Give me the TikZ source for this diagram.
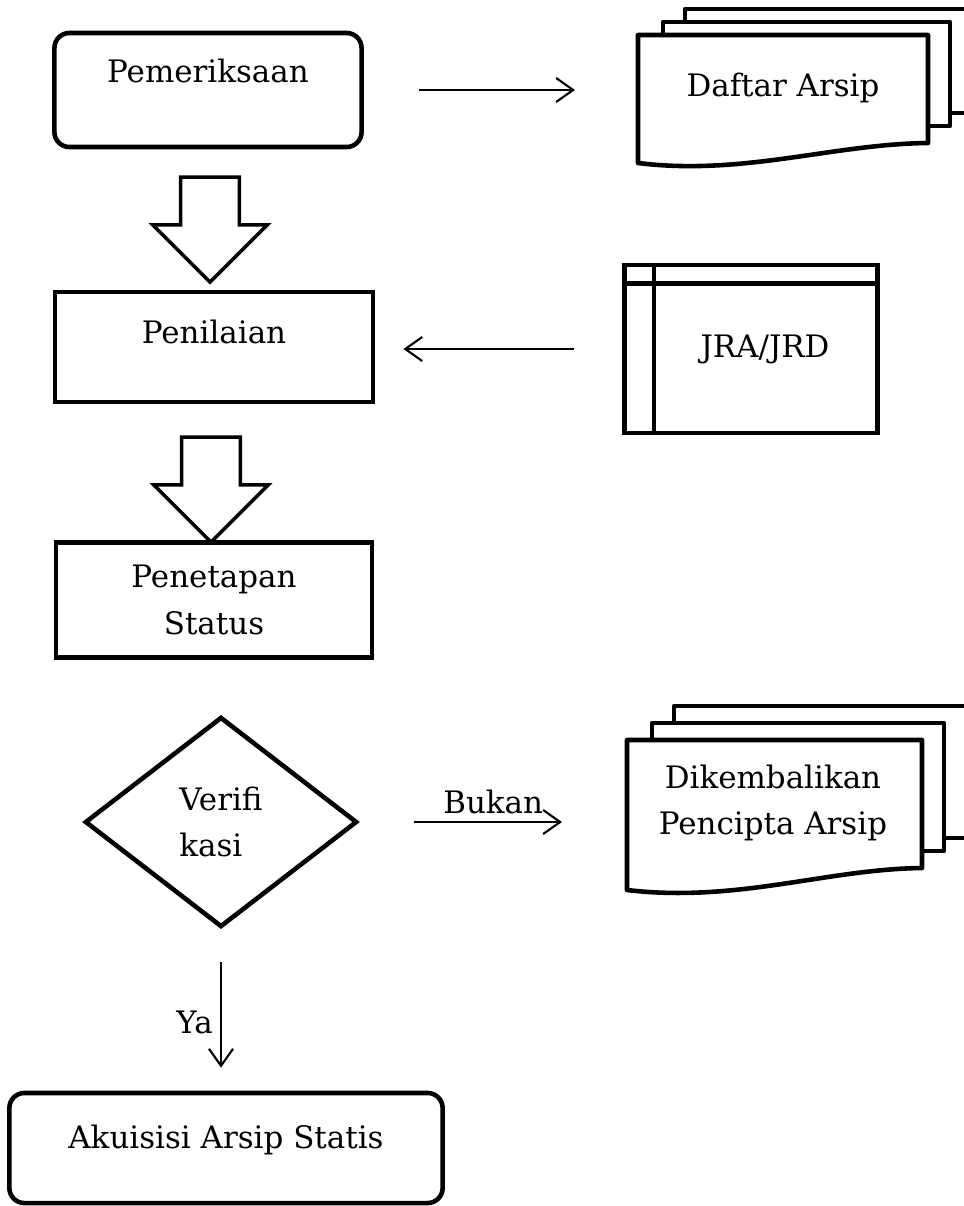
\documentclass[tikz,border=0pt]{standalone}
\usepackage{fontspec}
\setmainfont{DejaVu Serif}
\usetikzlibrary{shapes.geometric,shapes.arrows,arrows.meta,positioning,calc}
\tikzset{
    teks/.style={font=\fontsize{8.8}{13.2}\selectfont, align=center},
    kotak/.style={rectangle, draw, line width=1.3pt, teks},
    prosesbulat/.style={kotak, rounded corners=0.15cm},
    keputusan/.style={diamond, draw, line width=1.3pt, teks, align=left, aspect=1.3,
        minimum width=2.72cm, minimum height=2.1cm, inner sep=0pt},
    simpanan/.style={kotak, minimum width=2.53cm, minimum height=1.68cm},
    % panah tebal ke bawah
    panahblok/.style={single arrow, draw, line width=1pt, rotate=-90,
        minimum height=1.05cm, inner xsep=0pt, inner ysep=0.275cm,
        single arrow head extend=0.28cm},
    panah/.style={-{Straight Barb[length=1.7mm, width=2.4mm]}, line width=0.6pt},
    halaman/.style={draw, fill=white, line width=1.3pt, line join=round},
    % tumpukan dokumen: lebar / tinggi kiri / tinggi kanan / geser
    pics/dokumen/.style args={#1/#2/#3/#4}{code={
        \draw[halaman] (47,{-2*#4}) rectangle ({#1+80},{#3-30});
        \draw[halaman] (25,{-#4}) rectangle ({#1+22},{#3-17});
        \draw[halaman] (0,0) -- (#1,0) -- (#1,#3)
            .. controls ({#1-95},{#3+1}) and ({#1-185},{#2+13}) .. (0,#2) -- cycle;
        \coordinate (-kiri) at (0,{#2/2});
    }}
}
\begin{document}
\begin{tikzpicture}[x=0.01cm, y=-0.01cm]
\useasboundingbox (0,0) rectangle (964,1206);

% alur utama
\node[prosesbulat, minimum width=3.07cm, minimum height=1.14cm, text height=7pt, text depth=11pt] (periksa) at (208,90) {Pemeriksaan};
\node[panahblok] (blok1) at (210,215) {};
\node[kotak, minimum width=3.18cm, minimum height=1.1cm, text height=7pt, text depth=9pt] (nilai) at (214,347) {Penilaian};
\node[panahblok] (blok2) at (211,475) {};
\node[kotak, minimum width=3.16cm, minimum height=1.15cm] (tetap) at (214,600) {Penetapan\\Status};
\node[keputusan] (verif) at (221,822) {Verifi\\kasi};
\node[prosesbulat, minimum width=4.33cm, minimum height=1.1cm, text height=7pt, text depth=7pt] (akuisisi) at (226,1148) {Akuisisi Arsip Statis};

% dokumen dan simpanan
\pic (dftr) at (638,35) {dokumen=290/128/108/13};
\node[teks] (daftar) at (783,88) {Daftar Arsip};
\node[simpanan] (jra) at (751,349) {\hspace{0.28cm}JRA/JRD};
\draw[line width=1.3pt] ($(jra.north west)+(0,21)$) -- ($(jra.north east)+(0,21)$);
\draw[line width=1.3pt] ($(jra.north west)+(32,0)$) -- ($(jra.south west)+(32,0)$);
\pic (kembali) at (627,740) {dokumen=295/150/128/17};
\node[teks] (balik) at (773,803) {Dikembalikan\\Pencipta Arsip};

% panah
\draw[panah, shorten <=0.55cm, shorten >=0.63cm] (periksa.east) -- (periksa.east -| dftr-kiri);
\draw[panah, shorten <=0.48cm, shorten >=0.28cm] (jra.west) -- (jra.west -| nilai.east);
\draw[panah, shorten <=0.55cm, shorten >=0.65cm] (verif.east) -- node[teks, above, inner sep=2pt] (lblbukan) {Bukan} (verif.east -| kembali-kiri);
\draw[panah, shorten <=0.33cm, shorten >=0.23cm] (verif.south) -- node[teks, pos=0.58, left, inner sep=2pt] (lblya) {Ya} (verif.south |- akuisisi.north);
\end{tikzpicture}
\end{document}
